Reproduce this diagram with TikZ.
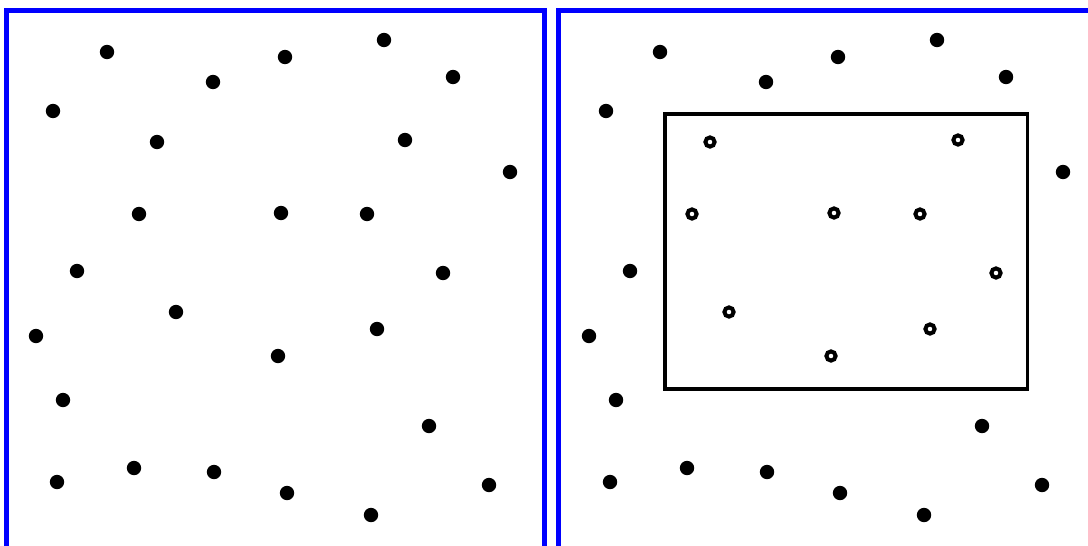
\documentclass[tikz,border=0pt]{standalone}
\begin{document}
\begin{tikzpicture}[x=1pt,y=-1pt,
  panel/.style={draw={rgb,255:red,0;green,0;blue,255},line width=5pt},
  fulldot/.style={fill=black},
  ringdot/.style={draw=black,line width=4pt},
  region/.style={draw=black,line width=3.5pt}]
\useasboundingbox (0,0) rectangle (1088,546);
\begin{scope}
\clip (0,0) rectangle (1088,546);
\draw[panel] (6.5,10.5) rectangle (544,570);
\draw[panel] (558,10.5) rectangle (1096,570);
\end{scope}
% left panel: all points
\foreach \x/\y in {107/52,213/82,285/57,384/40,453/77,53/111,157/142,405/140,510/172,
  139/214,281/213,367/214,77/271,443/273,176/312,36/336,377/329,278/356,63/400,
  429/426,57/482,134/468,214/472,287/493,489/485,371/515}
  \fill[fulldot] (\x,\y) circle (7.2);
% right panel: query rectangle
\draw[region] (665,114) rectangle (1027.5,389);
% points outside the rectangle
\foreach \x/\y in {107/52,213/82,285/57,384/40,453/77,53/111,510/172,
  77/271,36/336,63/400,429/426,57/482,134/468,214/472,287/493,489/485,371/515}
  \fill[fulldot] (\x+553,\y) circle (7.2);
% points inside the rectangle
\foreach \x/\y in {157/142,405/140,139/214,281/213,367/214,443/273,176/312,377/329,278/356}
  \draw[ringdot] (\x+553,\y) circle (4.6);
\end{tikzpicture}
\end{document}
